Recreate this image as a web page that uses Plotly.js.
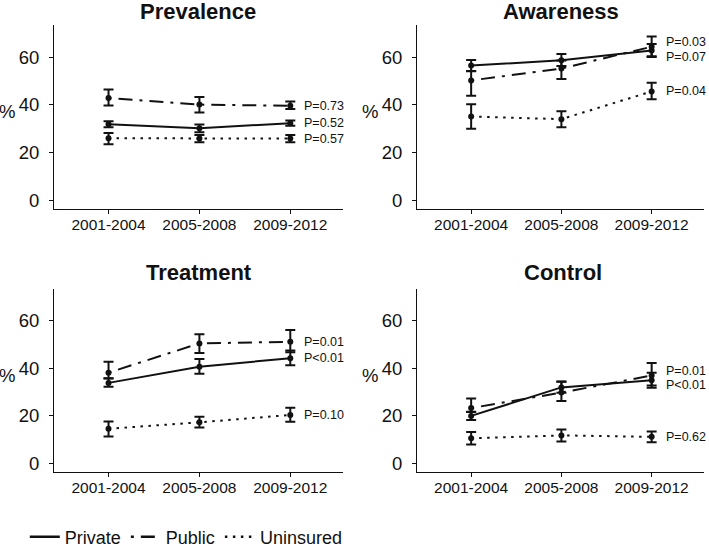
<!DOCTYPE html>
<html><head><meta charset="utf-8">
<script src="https://cdn.plot.ly/plotly-3.0.1.min.js"></script>
<style>html,body{margin:0;padding:0;background:#fff}#chart{width:709px;height:548px}</style>
</head><body><div id="chart"></div>
<script>
// ---- data ----
const periods = ['2001-2004', '2005-2008', '2009-2012'];
const groups = ['Private', 'Public', 'Uninsured'];
const panelTitles = ['Prevalence', 'Awareness', 'Treatment', 'Control'];

const prevPrivate = [31.9, 30.2, 32.3], prevPrivateLo = [30.6, 28.5, 31.2], prevPrivateHi = [33.1, 31.8, 33.4];
const prevPublic = [42.8, 40.1, 39.6], prevPublicLo = [39.7, 36.8, 38.2], prevPublicHi = [46.4, 43.3, 41.4];
const prevUnins = [26.0, 25.9, 25.9], prevUninsLo = [23.5, 24.3, 24.3], prevUninsHi = [28.2, 27.4, 27.4];

const awarPrivate = [56.4, 58.7, 62.7], awarPrivateLo = [54.2, 56.2, 60.0], awarPrivateHi = [58.8, 61.3, 65.5];
const awarPublic = [50.2, 55.2, 64.3], awarPublicLo = [43.8, 50.8, 60.3], awarPublicHi = [54.0, 58.5, 68.6];
const awarUnins = [35.1, 34.0, 45.6], awarUninsLo = [30.0, 30.6, 42.3], awarUninsHi = [40.2, 37.3, 49.2];

const treatPrivate = [33.9, 40.7, 44.3], treatPrivateLo = [32.3, 37.7, 41.3], treatPrivateHi = [35.7, 43.9, 47.5];
const treatPublic = [38.2, 50.5, 51.2], treatPublicLo = [35.8, 46.5, 46.8], treatPublicHi = [42.8, 54.4, 56.2];
const treatUnins = [14.6, 17.3, 20.4], treatUninsLo = [11.3, 15.1, 17.5], treatUninsHi = [17.7, 19.6, 23.4];

const ctrlPrivate = [20.0, 32.0, 35.0], ctrlPrivateLo = [18.3, 29.7, 31.8], ctrlPrivateHi = [21.6, 34.5, 38.2];
const ctrlPublic = [23.3, 29.8, 37.0], ctrlPublicLo = [21.7, 26.3, 32.8], ctrlPublicHi = [27.3, 34.4, 42.3];
const ctrlUnins = [10.6, 11.8, 11.2], ctrlUninsLo = [8.0, 9.2, 8.9], ctrlUninsHi = [13.2, 14.3, 13.4];

const prevP = ['P=0.52', 'P=0.73', 'P=0.57'];
const awarP = ['P=0.07', 'P=0.03', 'P=0.04'];
const treatP = ['P<0.01', 'P=0.01', 'P=0.10'];
const ctrlP = ['P<0.01', 'P=0.01', 'P=0.62'];

// ---- build ----
const panels = [
  {vals: [prevPrivate, prevPublic, prevUnins], lo: [prevPrivateLo, prevPublicLo, prevUninsLo], hi: [prevPrivateHi, prevPublicHi, prevUninsHi], p: prevP},
  {vals: [awarPrivate, awarPublic, awarUnins], lo: [awarPrivateLo, awarPublicLo, awarUninsLo], hi: [awarPrivateHi, awarPublicHi, awarUninsHi], p: awarP},
  {vals: [treatPrivate, treatPublic, treatUnins], lo: [treatPrivateLo, treatPublicLo, treatUninsLo], hi: [treatPrivateHi, treatPublicHi, treatUninsHi], p: treatP},
  {vals: [ctrlPrivate, ctrlPublic, ctrlUnins], lo: [ctrlPrivateLo, ctrlPublicLo, ctrlUninsLo], hi: [ctrlPrivateHi, ctrlPublicHi, ctrlUninsHi], p: ctrlP}
];
// label nudges in px (to avoid overlap), per panel per group
const nudges = [[0, 0, 0], [-6, 5, 0], [0, 0, 0], [-5, 5, 0]];
const dashes = ['solid', '3px,7px,14px,7px', '2.5px,5.5px'];
const W = 709, H = 548;
const dom = [
  {x: [54, 343], y: [25, 209], title: [198, 11]},
  {x: [417, 704], y: [25, 209], title: [561, 11]},
  {x: [54, 343], y: [289, 472], title: [199, 273]},
  {x: [417, 704], y: [289, 472], title: [563, 273]}
];
const ink = '#111';
const font = 'Liberation Sans, Arial, sans-serif';

const traces = [];
const layout = {
  width: W, height: H, margin: {l: 0, r: 0, t: 0, b: 0, autoexpand: false},
  paper_bgcolor: '#fff', plot_bgcolor: '#fff',
  font: {family: font, color: ink},
  showlegend: true,
  legend: {orientation: 'h', x: 0.035, xanchor: 'left', y: -0.014, yanchor: 'bottom',
    font: {size: 18, color: ink, family: font}, itemwidth: 30, tracegroupgap: 0, bgcolor: 'rgba(0,0,0,0)'},
  annotations: []
};

panels.forEach((pn, i) => {
  const k = i === 0 ? '' : String(i + 1);
  const d = dom[i];
  layout['xaxis' + k] = {
    domain: [d.x[0] / W, d.x[1] / W], anchor: 'y' + k, type: 'category',
    range: [-0.6, 2.58], showline: true, linecolor: ink, linewidth: 1,
    ticks: 'outside', ticklen: 4, tickcolor: ink, showgrid: false, zeroline: false,
    ticklabelstandoff: -3,
    tickfont: {size: 15.5, color: ink, family: font}, fixedrange: true
  };
  layout['yaxis' + k] = {
    domain: [1 - d.y[1] / H, 1 - d.y[0] / H], anchor: 'x' + k,
    range: [-3.6, 73.4], tickvals: [0, 20, 40, 60], showline: true, linecolor: ink, linewidth: 1,
    ticks: 'outside', ticklen: 4, tickcolor: ink, showgrid: false, zeroline: false,
    ticklabelstandoff: 6,
    tickfont: {size: 18.5, color: ink, family: font}, fixedrange: true
  };
  layout.annotations.push({
    text: '<b>' + panelTitles[i] + '</b>', xref: 'paper', yref: 'paper',
    x: d.title[0] / W, y: 1 - d.title[1] / H, xanchor: 'center', yanchor: 'middle',
    showarrow: false, font: {size: 22, color: ink, family: font}
  });
  layout.annotations.push({
    text: '%', xref: 'paper', yref: 'paper',
    x: (d.x[0] - 47) / W, y: 1 - ((d.y[0] + d.y[1]) / 2 - 5) / H, xanchor: 'center', yanchor: 'middle',
    showarrow: false, font: {size: 18.5, color: ink, family: font}
  });
  groups.forEach((g, j) => {
    const v = pn.vals[j];
    traces.push({
      type: 'scatter', mode: 'lines+markers', name: g, legendgroup: g, showlegend: false,
      x: periods, y: v, xaxis: 'x' + k, yaxis: 'y' + k,
      line: {color: ink, width: 2, dash: dashes[j]},
      marker: {color: ink, size: 6, symbol: 'circle'},
      error_y: {type: 'data', symmetric: false,
        array: v.map((y, n) => pn.hi[j][n] - y), arrayminus: v.map((y, n) => y - pn.lo[j][n]),
        color: ink, thickness: 2, width: 5},
      hoverinfo: 'skip'
    });
    layout.annotations.push({
      text: pn.p[j], xref: 'x' + k, yref: 'y' + k, x: periods[2], y: v[2],
      xanchor: 'left', yanchor: 'middle', xshift: 12, yshift: nudges[i][j],
      showarrow: false, font: {size: 12.5, color: ink, family: font}
    });
  });
});
// legend-only entries (line keys without markers, as in the reference)
groups.forEach((g, j) => {
  traces.push({type: 'scatter', mode: 'lines', name: g, legendgroup: g, showlegend: true,
    x: [null], y: [null], line: {color: ink, width: 2.5, dash: dashes[j]}, hoverinfo: 'skip'});
});

Plotly.newPlot('chart', traces, layout, {staticPlot: true, displayModeBar: false});
</script>
</body></html>
